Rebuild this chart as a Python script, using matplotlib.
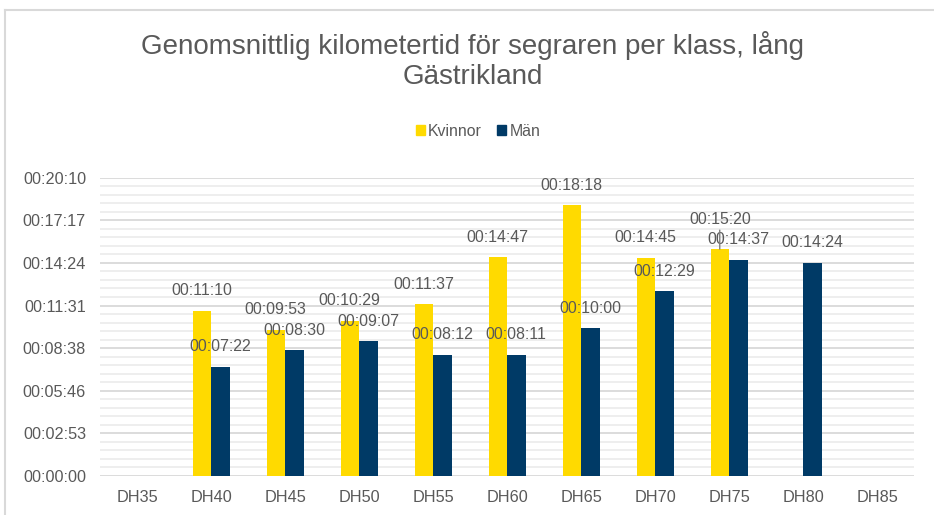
import numpy as np
import matplotlib.pyplot as plt
from matplotlib.ticker import MultipleLocator, FuncFormatter
from matplotlib.lines import Line2D
from matplotlib.patches import Patch

plt.rcParams['font.family'] = ['Liberation Sans', 'DejaVu Sans']

################

klasser = ['DH35', 'DH40', 'DH45', 'DH50', 'DH55', 'DH60', 'DH65', 'DH70', 'DH75', 'DH80', 'DH85']
kvinnor = [None, '00:11:10', '00:09:53', '00:10:29', '00:11:37', '00:14:47', '00:18:18', '00:14:45', '00:15:20', None, None]
man = [None, '00:07:22', '00:08:30', '00:09:07', '00:08:12', '00:08:11', '00:10:00', '00:12:29', '00:14:37', '00:14:24', None]

################

def to_sec(t):
    if t is None:
        return np.nan
    h, m, s = t.split(':')
    return int(h) * 3600 + int(m) * 60 + int(s)

def fmt(v, pos=None):
    v = int(round(v))
    return '%02d:%02d:%02d' % (v // 3600, (v % 3600) // 60, v % 60)

kv_sec = np.array([to_sec(t) for t in kvinnor])
man_sec = np.array([to_sec(t) for t in man])

gul = '#FFDA00'
bla = '#003A66'
grå = '#595959'

fig = plt.figure(figsize=(9.34, 5.15), dpi=100)
ax = fig.add_axes([100 / 934, 1 - 476 / 515, 814 / 934, (476 - 177.7) / 515])

x = np.arange(len(klasser))
w = 0.25
ax.bar(x - w / 2, kv_sec, w, color=gul, zorder=3)
ax.bar(x + w / 2, man_sec, w, color=bla, zorder=3)

# data labels
for i in range(len(klasser)):
    if not np.isnan(kv_sec[i]):
        if klasser[i] == 'DH75':
            # excel moved this one up and drew a leader line
            ax.annotate(kvinnor[i], (x[i] - w / 2, kv_sec[i]), xytext=(0, 30), textcoords='offset pixels',
                        ha='center', va='center', fontsize=11.4, color=grå, zorder=5)
            ax.annotate('', (x[i] - w / 2, kv_sec[i]), xytext=(0, 19), textcoords='offset pixels', zorder=6,
                        arrowprops=dict(arrowstyle='-', color='#7F7F7F', lw=1.0, shrinkA=0, shrinkB=0))
        else:
            ax.annotate(kvinnor[i], (x[i] - w / 2, kv_sec[i]), xytext=(0, 20), textcoords='offset pixels',
                        ha='center', va='center', fontsize=11.4, color=grå, zorder=5)
    if not np.isnan(man_sec[i]):
        ax.annotate(man[i], (x[i] + w / 2, man_sec[i]), xytext=(0, 20), textcoords='offset pixels',
                    ha='center', va='center', fontsize=11.4, color=grå, zorder=5)

# y axis in day fractions like excel (0.002 days)
ax.set_ylim(0, 0.014 * 86400)
ax.set_xlim(-0.5, len(klasser) - 0.5)
ax.yaxis.set_major_locator(MultipleLocator(0.002 * 86400))
ax.yaxis.set_minor_locator(MultipleLocator(0.0004 * 86400))
ax.yaxis.set_major_formatter(FuncFormatter(fmt))
ax.grid(axis='y', which='major', color='#D9D9D9', lw=1.3, zorder=1)
ax.grid(axis='y', which='minor', color='#EDEDED', lw=1.3, zorder=1)
ax.set_xticks(x)
ax.set_xticklabels(klasser)
ax.tick_params(axis='both', which='both', length=0, labelsize=11.7, labelcolor=grå)
ax.tick_params(axis='x', pad=10)
ax.tick_params(axis='y', pad=10)
for s in ax.spines.values():
    s.set_visible(False)

fig.text(0.506, 1 - 45 / 515, 'Genomsnittlig kilometertid för segraren per klass, lång', ha='center', va='center',
         fontsize=20, color=grå)
fig.text(0.506, 1 - 77 / 515, 'Gästrikland', ha='center', va='center', fontsize=20, color=grå)

handles = [Patch(color=gul, label='Kvinnor'), Patch(color=bla, label='Män')]
fig.legend(handles=handles, loc='center', bbox_to_anchor=(478 / 934, 1 - 131 / 515), ncol=2, frameon=False,
           fontsize=11.4, handlelength=0.55, handleheight=0.55, handletextpad=0.2, columnspacing=1.0,
           labelcolor=grå)

# chart frame (left + top)
fig.add_artist(Line2D([5 / 934, 5 / 934], [0, 1 - 10 / 515], color='#D9D9D9', lw=1.5))
fig.add_artist(Line2D([5 / 934, 1], [1 - 10 / 515, 1 - 10 / 515], color='#D9D9D9', lw=1.5))

plt.savefig('out.png', dpi=100)
